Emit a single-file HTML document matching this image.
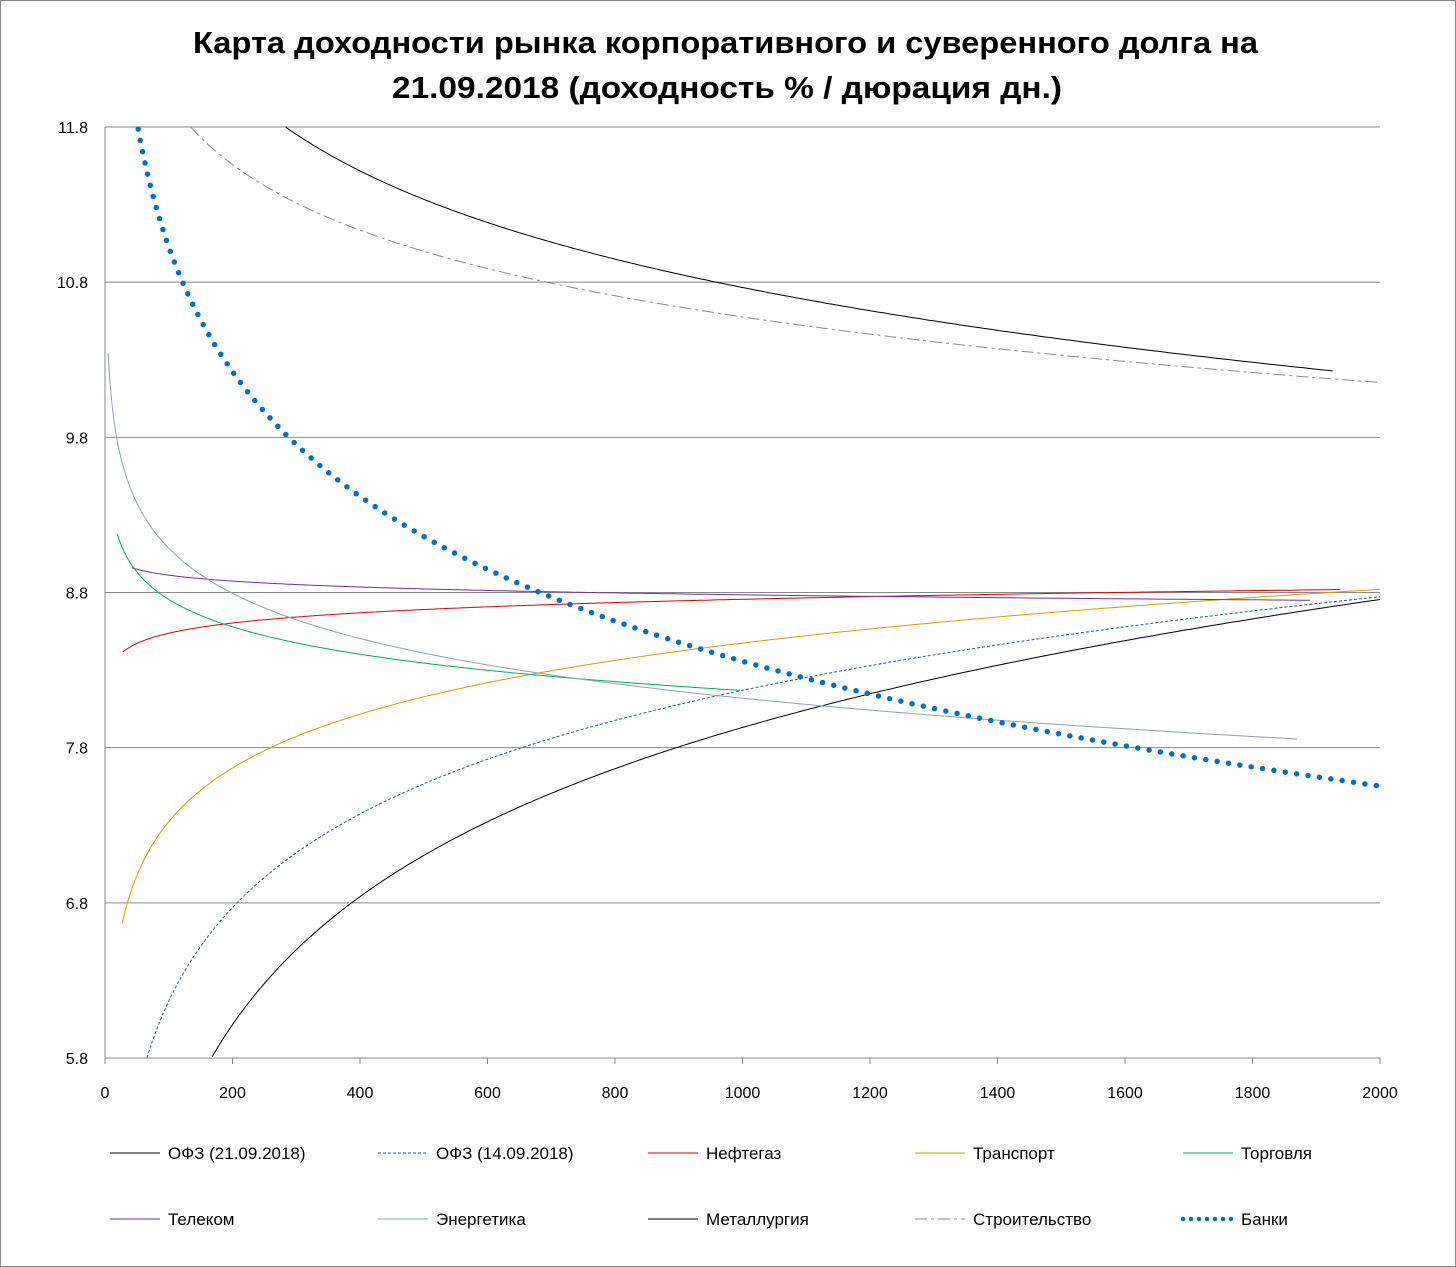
<!DOCTYPE html>
<html><head><meta charset="utf-8">
<style>
html,body{margin:0;padding:0;background:#fff;}
svg{display:block;font-family:"Liberation Sans","DejaVu Sans",sans-serif;}
</style></head>
<body>
<svg id="c" width="1456" height="1267" viewBox="0 0 1456 1267" xmlns="http://www.w3.org/2000/svg">
<rect x="0.5" y="0.5" width="1455" height="1266" fill="#fff" stroke="#888"/>
<text x="193" y="53" textLength="1065" lengthAdjust="spacingAndGlyphs" font-size="31" font-weight="bold">Карта доходности рынка корпоративного и суверенного долга на</text>
<text x="392" y="98" textLength="670" lengthAdjust="spacingAndGlyphs" font-size="31" font-weight="bold">21.09.2018 (доходность % / дюрация дн.)</text>
<g id="grid"></g>
<g id="series"></g>
<g id="legend" font-size="17" fill="#000"></g>
</svg>
<script>
var NS="http://www.w3.org/2000/svg";
function el(t,a,p){var e=document.createElementNS(NS,t);for(var k in a)e.setAttribute(k,a[k]);p.appendChild(e);return e;}
var X0=105,X1=1380,Y0=127,Y1=1058;
function px(x){return X0+(X1-X0)*x/2000;}
function py(v){return Y0+(11.8-v)*(Y1-Y0)/6;}
var g=document.getElementById('grid');
for(var i=0;i<7;i++){var v=5.8+i;var y=py(v);
 if(i>0) el('line',{x1:X0,x2:X1,y1:y,y2:y,stroke:'#888','stroke-width':1},g);
 var t=el('text',{x:88,y:y+6,'text-anchor':'end','font-size':16},g);t.textContent=v.toFixed(1);}
el('line',{x1:X0,x2:X0,y1:Y0,y2:Y1,stroke:'#888'},g);
el('line',{x1:X0,x2:X1,y1:Y1,y2:Y1,stroke:'#888'},g);
for(var x=0;x<=2000;x+=200){var xx=px(x);
 el('line',{x1:xx,x2:xx,y1:Y1,y2:Y1+6,stroke:'#888'},g);
 var t=el('text',{x:xx,y:Y1+40,'text-anchor':'middle','font-size':16},g);t.textContent=x;}
var S=[
 {a:-0.29,b:1.19,s:168,e:2000,c:'#000',w:1,d:''},
 {a:2.16,b:0.87,s:63,e:2000,c:'#1f5fa8',w:1,d:'3 2'},
 {a:8.1,b:0.095,s:28,e:1937,c:'#e00000',w:1,d:''},
 {a:5.02,b:0.5,s:27,e:2000,c:'#d4a000',w:1,d:''},
 {a:9.93,b:-0.255,s:19,e:996,c:'#00b050',w:1,d:''},
 {a:9.165,b:-0.055,s:42,e:1890,c:'#7030a0',w:1,d:''},
 {a:11.02,b:-0.42,s:5,e:1870,c:'#8ea0c0',w:1,d:''},
 {a:16.43,b:-0.82,s:282,e:1926,c:'#000',w:1,d:''},
 {a:14.79,b:-0.61,s:133,e:2000,c:'#8a8a8a',w:1,d:'12 4 3 4'},
 {a:16.37,b:-1.16,s:52,e:2000,c:'#0070c0',w:5.5,d:'0 11.5',cap:'round'}
];
var sg=document.getElementById('series');
S.forEach(function(s){var pts=[];
 for(var k=0;k<=400;k++){var x=s.s*Math.pow(s.e/s.s,k/400);var v=s.a+s.b*Math.log(x);
  if(v>11.8||v<5.8)continue;pts.push(px(x).toFixed(1)+','+py(v).toFixed(1));}
 var a={d:'M'+pts.join('L'),fill:'none',stroke:s.c,'stroke-width':s.w};
 if(s.d)a['stroke-dasharray']=s.d; if(s.cap)a['stroke-linecap']=s.cap;
 el('path',a,sg);});
var names=['ОФЗ (21.09.2018)','ОФЗ (14.09.2018)','Нефтегаз','Транспорт','Торговля','Телеком','Энергетика','Металлургия','Строительство','Банки'];
var lg=document.getElementById('legend');var cols=[110,378,648,915,1183];
for(var i=0;i<10;i++){var s=S[i];var x=cols[i%5];var y=i<5?1153:1219;
 var a={x1:x,x2:x+50,y1:y,y2:y,stroke:s.c,'stroke-width':s.w==1?1:4.5};
 if(s.d)a['stroke-dasharray']=s.cap?'0 8':s.d; if(s.cap)a['stroke-linecap']='round';
 el('line',a,lg);
 var t=el('text',{x:x+58,y:y+6},lg);t.textContent=names[i];}
</script>
</body></html>
